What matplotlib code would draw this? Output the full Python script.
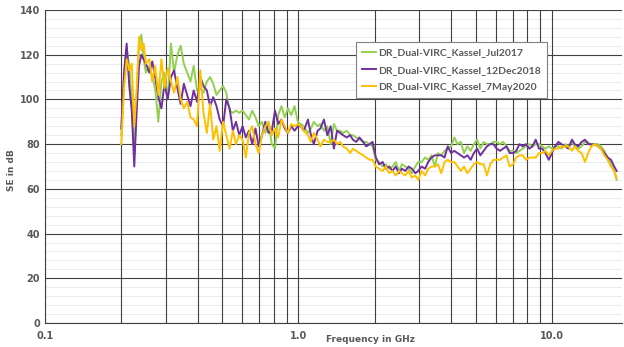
import numpy as np
import matplotlib
matplotlib.use("Agg")
import matplotlib.pyplot as plt
from matplotlib.ticker import FixedLocator, MultipleLocator, NullFormatter

# Frequencies in GHz (measurement points), split into blocks
freq_a = [0.200, 0.205, 0.210, 0.215, 0.220, 0.225, 0.230, 0.235, 0.240, 0.245, 0.250]
freq_b = [0.258, 0.265, 0.272, 0.280, 0.288, 0.296, 0.305, 0.314, 0.323, 0.333,
          0.343, 0.353, 0.364, 0.375, 0.386, 0.398, 0.410, 0.422, 0.435, 0.448,
          0.461, 0.475, 0.489, 0.504, 0.519, 0.535, 0.551, 0.567, 0.584, 0.602,
          0.620, 0.638, 0.657, 0.677, 0.697, 0.718, 0.740, 0.762, 0.785, 0.808,
          0.832, 0.857, 0.883, 0.909, 0.937, 0.965, 0.994]
freq_c = [1.02, 1.05, 1.09, 1.12, 1.15, 1.19, 1.22, 1.26, 1.30, 1.34,
          1.38, 1.42, 1.46, 1.50, 1.55, 1.60, 1.64, 1.69, 1.74, 1.80,
          1.85, 1.91, 1.96]
freq_d = [2.02, 2.08, 2.15, 2.21, 2.28, 2.35, 2.42, 2.49, 2.56, 2.64,
          2.72, 2.80, 2.89, 2.97]
freq_e = [3.06, 3.16, 3.25, 3.35, 3.45, 3.55, 3.66, 3.77, 3.88, 4.00,
          4.12, 4.24, 4.37, 4.50, 4.64, 4.78, 4.92]
freq_f = [5.07, 5.22, 5.38, 5.54, 5.71, 5.88, 6.05, 6.24, 6.42, 6.62,
          6.81, 7.02, 7.23, 7.45, 7.67, 7.90, 8.14, 8.38, 8.63, 8.89,
          9.16, 9.43, 9.72]
freq_g = [10.0, 10.3, 10.6, 10.9, 11.3, 11.6, 12.0, 12.3, 12.7, 13.1,
          13.5, 13.9, 14.3, 14.7, 15.2, 15.6, 16.1, 16.6, 17.1, 17.6, 18.0]

# SE in dB - Jul2017 (green)
jul2017 = ([84, 110, 123, 115, 100, 75, 100, 125, 129, 118, 112]
           + [115, 110, 105, 90, 108, 112, 100, 125, 112, 120,
              124, 116, 112, 108, 115, 104, 105, 103, 108, 110,
              107, 102, 104, 106, 103, 95, 94, 95, 94, 95,
              93, 91, 95, 92, 88, 90, 85, 90, 80, 78,
              93, 97, 92, 96, 93, 97, 90]
           + [89, 88, 85, 87, 90, 88, 89, 86, 88, 80,
              89, 86, 86, 85, 86, 84, 84, 83, 82, 81,
              81, 80, 79]
           + [73, 72, 70, 71, 69, 70, 72, 68, 71, 70, 69, 67, 70, 72]
           + [72, 74, 73, 75, 70, 76, 75, 77, 78, 79, 83, 80, 81, 76, 79, 77, 80]
           + [82, 78, 81, 80, 80, 81, 81, 80, 81, 79,
              77, 77, 76, 77, 78, 79, 80, 79, 80, 80,
              79, 78, 79]
           + [78, 79, 79, 78, 80, 79, 81, 79, 78, 79,
              81, 81, 79, 80, 80, 79, 77, 74, 71, 68, 64])

# SE in dB - 12Dec2018 (purple)
dec2018 = ([87, 112, 125, 106, 95, 70, 95, 115, 120, 118, 116]
           + [112, 117, 110, 101, 96, 107, 100, 110, 113, 105,
              98, 107, 102, 97, 104, 99, 110, 106, 104, 97,
              101, 97, 91, 88, 100, 96, 86, 90, 84, 88,
              83, 86, 80, 87, 79, 84, 90, 85, 86, 95,
              89, 91, 87, 85, 88, 86, 88]
           + [88, 86, 91, 84, 80, 86, 87, 91, 84, 88,
              78, 86, 85, 84, 83, 84, 82, 81, 83, 81,
              79, 80, 81]
           + [74, 71, 72, 69, 70, 68, 70, 67, 69, 68, 70, 69, 67, 68]
           + [70, 69, 72, 74, 75, 75, 75, 74, 79, 76, 77, 76, 75, 74, 75, 73, 76]
           + [78, 75, 77, 79, 80, 80, 78, 77, 78, 79,
              76, 76, 77, 80, 79, 80, 78, 79, 82, 78,
              78, 76, 73]
           + [76, 79, 81, 80, 79, 78, 82, 80, 79, 81,
              82, 80, 80, 80, 79, 78, 76, 74, 73, 70, 68])

# SE in dB - 7May2020 (yellow)
may2020 = ([80, 105, 118, 113, 116, 88, 105, 128, 122, 125, 116]
           + [118, 108, 115, 102, 118, 105, 114, 108, 103, 110,
              100, 96, 99, 92, 91, 88, 113, 94, 85, 98,
              82, 88, 77, 90, 84, 78, 86, 80, 84, 82,
              74, 85, 88, 80, 76, 84, 88, 90, 84, 87,
              83, 91, 88, 85, 89, 88, 89]
           + [88, 86, 84, 81, 85, 82, 79, 82, 81, 81,
              82, 80, 81, 79, 78, 76, 78, 77, 76, 75,
              74, 73, 73]
           + [70, 69, 68, 70, 67, 68, 66, 68, 67, 66, 68, 65, 66, 64]
           + [68, 66, 69, 70, 70, 71, 67, 72, 73, 72, 72, 70, 68, 70, 67, 69, 71]
           + [72, 71, 71, 66, 71, 73, 73, 73, 74, 75,
              70, 71, 74, 75, 75, 73, 74, 74, 74, 76,
              76, 77, 75]
           + [77, 78, 78, 79, 79, 79, 77, 79, 77, 76,
              72, 76, 79, 80, 79, 78, 75, 73, 70, 68, 65])

freq = freq_a + freq_b + freq_c + freq_d + freq_e + freq_f + freq_g

labels = ["DR_Dual-VIRC_Kassel_Jul2017",
          "DR_Dual-VIRC_Kassel_12Dec2018",
          "DR_Dual-VIRC_Kassel_7May2020"]
colors = ["#92D050", "#7030A0", "#FFC000"]

fig = plt.figure(figsize=(6.24, 3.47), dpi=100)
ax = fig.add_axes([45 / 624, 24 / 347, 577 / 624, 313 / 347])

for y, lab, c in zip([jul2017, dec2018, may2020], labels, colors):
    ax.plot(freq, y, color=c, lw=1.4, label=lab, zorder=3)

ax.set_xscale("log")
ax.set_xlim(0.1, 18.9)
ax.set_ylim(0, 140)

# faint minor horizontal lines, kept below the dark grid
for v in np.arange(4, 140, 4):
    if v % 20:
        ax.axhline(v, color="#e8e8e8", lw=0.6, zorder=0.1)

txt = "#595959"
ax.xaxis.set_major_locator(FixedLocator([0.1, 1.0, 10.0]))
ax.set_xticklabels(["0.1", "1.0", "10.0"])
ax.xaxis.set_minor_locator(FixedLocator([0.2, 0.3, 0.4, 0.5, 0.6, 0.7, 0.8, 0.9,
                                         2, 3, 4, 5, 6, 7, 8, 9]))
ax.xaxis.set_minor_formatter(NullFormatter())
ax.yaxis.set_major_locator(MultipleLocator(20))

ax.grid(True, which="major", axis="both", color="#404040", lw=0.8)
ax.grid(True, which="minor", axis="x", color="#404040", lw=0.8)
ax.set_axisbelow(True)

ax.tick_params(axis="both", which="both", length=0, labelsize=7, labelcolor=txt)
ax.tick_params(axis="x", pad=6)
for lab in ax.get_xticklabels() + ax.get_yticklabels():
    lab.set_fontweight("bold")

for s in ["top", "right"]:
    ax.spines[s].set_visible(False)
for s in ["left", "bottom"]:
    ax.spines[s].set_color("#404040")
    ax.spines[s].set_linewidth(0.8)

fig.text(370 / 624, 1 - 339 / 347, "Frequency in GHz", ha="center", va="center",
         fontsize=6.5, color=txt, fontweight="bold")
fig.text(12 / 624, 1 - 170 / 347, "SE in dB", ha="center", va="center",
         rotation=90, fontsize=6.5, color=txt, fontweight="bold")

leg = ax.legend(loc="upper left", bbox_to_anchor=(356 / 624, 1 - 42 / 347),
                bbox_transform=fig.transFigure, fancybox=False, framealpha=1,
                edgecolor="#808080", handlelength=1.3, borderaxespad=0,
                handletextpad=0.2, labelspacing=0.75, borderpad=0.6,
                prop={"family": "Lato", "weight": "bold", "size": 7.5})
leg.get_frame().set_linewidth(0.8)
leg.set_zorder(5)
for t in leg.get_texts():
    t.set_color(txt)

fig.savefig("out.png", dpi=100)
